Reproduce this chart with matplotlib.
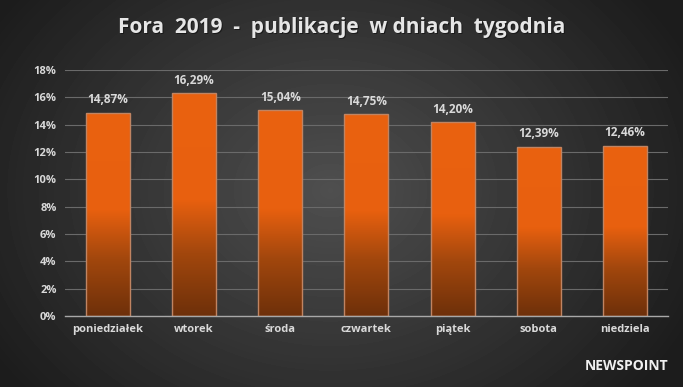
#!/bin/env python3

import numpy as np
import matplotlib.pyplot as plt
from matplotlib.colors import LinearSegmentedColormap
from matplotlib.patches import Rectangle

days = ['poniedziałek', 'wtorek', 'środa', 'czwartek', 'piątek', 'sobota', 'niedziela']
shares = [14.87, 16.29, 15.04, 14.75, 14.20, 12.39, 12.46]
yticks = [0, 2, 4, 6, 8, 10, 12, 14, 16, 18]

TXT = '#d9d9d9'
FONT = ['Open Sans', 'DejaVu Sans']


def main():
    plt.rcParams['font.family'] = FONT
    fig = plt.figure(figsize=(6.83, 3.87), dpi=100)

    # background: radial gradient, lighter in the middle
    bg = fig.add_axes([0, 0, 1, 1], zorder=-10)
    yy, xx = np.mgrid[0:387, 0:683]
    r = np.sqrt(((xx - 330) / 420.0) ** 2 + ((yy - 190) / 330.0) ** 2)
    val = np.clip(0.31 - 0.21 * r, 0.11, 0.31)
    bg.imshow(val, cmap='gray', vmin=0, vmax=1, aspect='auto',
              extent=(0, 1, 0, 1), origin='upper')
    bg.axis('off')

    ax = fig.add_axes([0.095, 0.1835, 0.883, 0.636])
    ax.set_facecolor('none')
    x = np.arange(len(days))
    w = 0.51

    cmap = LinearSegmentedColormap.from_list(
        'bar', [(0, '#6e300a'), (0.28, '#a2470d'), (0.52, '#e8600f'), (1, '#ea6210')])
    grad = np.linspace(0, 1, 256).reshape(-1, 1)
    for xi, v in zip(x, shares):
        rect = Rectangle((xi - w / 2, 0), w, v, facecolor='none',
                         edgecolor='#c08462', linewidth=1.0, zorder=3)
        ax.add_patch(rect)
        im = ax.imshow(grad, cmap=cmap, aspect='auto', origin='lower',
                       extent=(xi - w / 2, xi + w / 2, 0, v), zorder=2)
        im.set_clip_path(rect)
        ax.text(xi, v + 0.45, f'{v:.2f}'.replace('.', ',') + '%', ha='center',
                va='bottom', color=TXT, fontsize=8.5, fontweight='bold')

    ax.set_xlim(-0.5, len(days) - 0.5)
    ax.set_ylim(0, 18)
    ax.set_yticks(yticks)
    ax.set_yticklabels([f'{t}%' for t in yticks])
    ax.set_xticks(x)
    ax.set_xticklabels(days)
    ax.tick_params(length=0, colors=TXT, labelsize=8, pad=6)
    for lab in ax.get_xticklabels() + ax.get_yticklabels():
        lab.set_fontweight('bold')
    ax.yaxis.grid(True, color='#6a6a6a', linewidth=0.8, zorder=0)
    ax.set_axisbelow(True)
    for s in ['top', 'right', 'left']:
        ax.spines[s].set_visible(False)
    ax.spines['bottom'].set_color('#a8a8a8')
    ax.spines['bottom'].set_linewidth(1.0)
    ax.spines['bottom'].set_zorder(4)

    # title with a soft shadow
    title = 'Fora  2019  -  publikacje  w dniach  tygodnia'
    fig.text(0.5 + 0.002, 0.93 - 0.004, title, ha='center', va='center',
             color='#111111', fontsize=15, fontweight='bold', alpha=0.7)
    fig.text(0.5, 0.93, title, ha='center', va='center',
             color='#e6e6e6', fontsize=15, fontweight='bold')

    # logo
    fig.text(0.978, 0.055, 'NEWSPOINT', ha='right', va='center',
             color='#f0f0f0', fontsize=10, fontweight='bold')

    fig.savefig('out.png', dpi=100)


if __name__ == '__main__':
    main()
